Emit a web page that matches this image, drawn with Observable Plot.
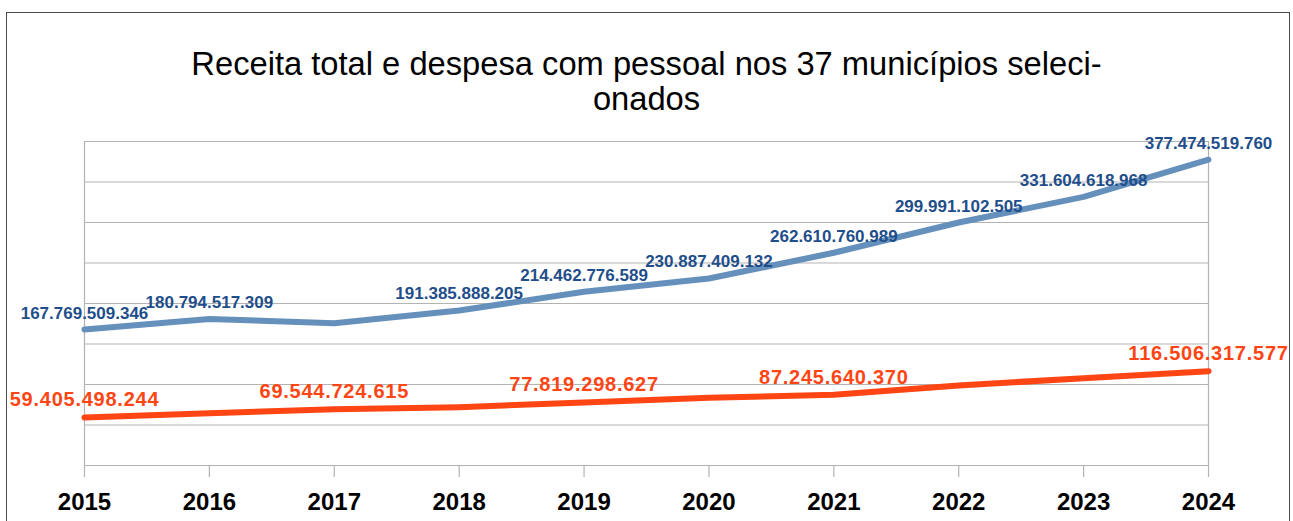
<!DOCTYPE html>
<html>
<head>
<meta charset="utf-8">
<script src="https://cdn.jsdelivr.net/npm/d3@7"></script>
<script src="https://cdn.jsdelivr.net/npm/@observablehq/plot@0.6"></script>
<style>
  html, body { margin: 0; padding: 0; background: #ffffff; }
  body { width: 1293px; height: 521px; position: relative; overflow: hidden; font-family: "Liberation Sans", Arial, sans-serif; }
  #frame { position: absolute; left: 6px; top: 12px; width: 1284px; height: 540px; box-sizing: border-box; border: 1px solid #4a4a4a; pointer-events: none; z-index: 2; }
  #title { height: 125px; box-sizing: border-box; padding-top: 45.5px; text-align: center; font-size: 32.7px; line-height: 35.5px; color: #000; font-family: "Liberation Sans", Arial, sans-serif; }
  #chart svg { display: block; background: transparent; }
  #chart g[fill="#ff4514"] text { letter-spacing: 0.75px; }
</style>
</head>
<body>
<div id="title">Receita total e despesa com pessoal nos 37 municípios seleci-<br>onados</div>
<div id="chart"></div>
<div id="frame"></div>
<script>
// ---- data ----
const years = [2015, 2016, 2017, 2018, 2019, 2020, 2021, 2022, 2023, 2024];
// Receita total (R$) — 2017 estimated from the line
const receita = [167769509346, 180794517309, 175700000000, 191385888205, 214462776589, 230887409132, 262610760989, 299991102505, 331604618968, 377474519760];
// Despesa com pessoal (R$) — unlabeled years estimated from the line
const despesa = [59405498244, 64600000000, 69544724615, 72000000000, 77819298627, 83600000000, 87245640370, 98800000000, 107800000000, 116506317577];
// years whose values are labelled in the picture
const receitaLabelYears = [2015, 2016, 2018, 2019, 2020, 2021, 2022, 2023, 2024];
const despesaLabelYears = [2015, 2017, 2019, 2021, 2024];
// gridline values
const gridValues = [0, 50e9, 100e9, 150e9, 200e9, 250e9, 300e9, 350e9, 400e9];

// ---- build ----
const fmt = d3.formatLocale({decimal: ",", thousands: ".", grouping: [3], currency: ["R$", ""]}).format(",d");
const rec = years.map((year, i) => ({year, value: receita[i]}));
const des = years.map((year, i) => ({year, value: despesa[i]}));
const recLab = rec.filter(d => receitaLabelYears.includes(d.year));
const desLab = des.filter(d => despesaLabelYears.includes(d.year));

const blueLine = "#6690bc";
const blueText = "#1f4e8a";
const red = "#ff4514";

const chart = Plot.plot({
  width: 1293,
  height: 396,
  marginLeft: 84,
  marginRight: 85,
  marginTop: 16,
  marginBottom: 56,
  style: {background: "transparent", fontFamily: "Liberation Sans, Arial, sans-serif"},
  x: {type: "linear", domain: [years[0], years[years.length - 1]], axis: null, label: null},
  y: {domain: [0, 400e9], axis: null},
  marks: [
    Plot.ruleY(gridValues, {stroke: "#b3b3b3", strokeWidth: 1.2}),
    Plot.ruleX([years[0], years[years.length - 1]], {y1: 0, y2: 400e9, stroke: "#b3b3b3", strokeWidth: 1.2}),
    Plot.ruleX(years, {x: d => d, y1: 0, y2: 0, insetBottom: -12, stroke: "#b3b3b3", strokeWidth: 1.2}),
    Plot.axisX({ticks: years, tickSize: 0, tickPadding: 27, label: null, tickFormat: d => String(d), fill: "#000", fontSize: 24, fontWeight: "bold"}),
    Plot.line(rec, {x: "year", y: "value", stroke: blueLine, strokeWidth: 6, curve: "linear", strokeLinejoin: "round"}),
    Plot.line(des, {x: "year", y: "value", stroke: red, strokeWidth: 6, curve: "linear", strokeLinejoin: "round"}),
    Plot.text(recLab, {x: "year", y: "value", text: d => fmt(d.value), dy: -11, lineAnchor: "bottom", fill: blueText, fontSize: 17, fontWeight: "bold"}),
    Plot.text(desLab, {x: "year", y: "value", text: d => fmt(d.value), dy: -11, lineAnchor: "bottom", fill: red, fontSize: 20, fontWeight: "bold"})
  ]
});
document.getElementById("chart").appendChild(chart);
</script>
</body>
</html>
